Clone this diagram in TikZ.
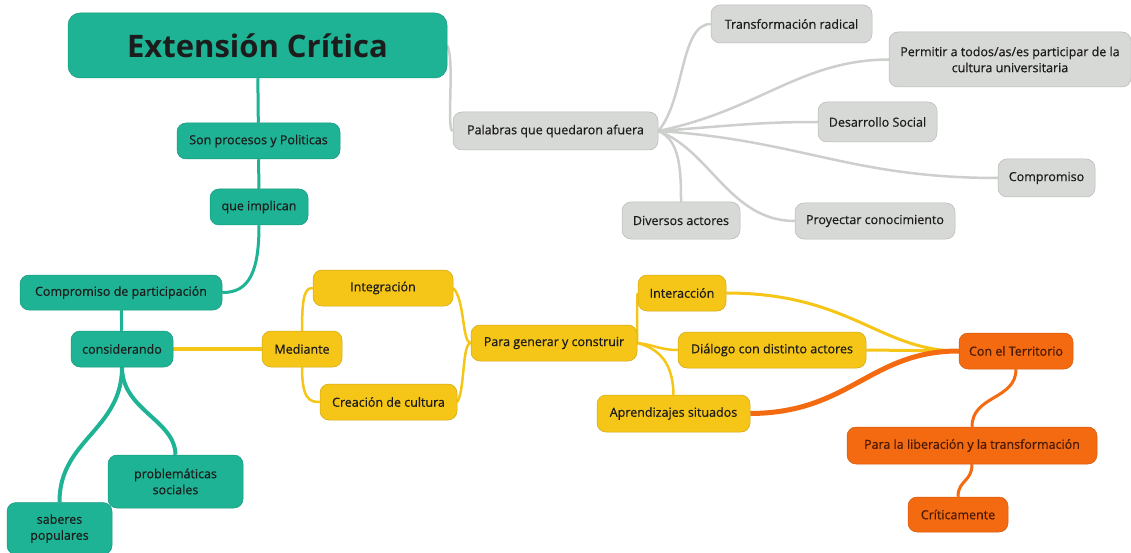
\documentclass[tikz,border=0pt]{standalone}
\usepackage{fontspec}
\setmainfont{Open Sans}
\newfontface\ecfont{Open Sans}[FakeBold=0.5]
\usetikzlibrary{backgrounds}
\definecolor{ecgreen}{HTML}{1DB394}
\definecolor{ecyellow}{HTML}{F5C517}
\definecolor{ecorange}{HTML}{F36A10}
\definecolor{ecgray}{HTML}{D7D9D6}
\definecolor{eclink}{HTML}{CDCFCC}
\definecolor{ectext}{HTML}{1C1C1C}
\definecolor{ecbrown}{HTML}{4A1A05}
\begin{document}
\begin{tikzpicture}[x=1pt,y=-1pt,
  box/.style={rounded corners=9pt,inner sep=2pt,minimum height=36pt,align=center,
    font=\ecfont\fontsize{12.5}{16}\selectfont,text=ectext},
  greenbox/.style={box,fill=ecgreen,draw=ecgreen!85!black,line width=0.5pt},
  yellowbox/.style={box,fill=ecyellow,draw=ecyellow!85!black,line width=0.5pt},
  orangebox/.style={box,fill=ecorange,draw=ecorange!85!black,line width=0.5pt,text=ecbrown},
  graybox/.style={box,fill=ecgray,draw=ecgray!85!black,line width=0.5pt},
  glink/.style={draw=ecgreen,line width=3pt},
  ylink/.style={draw=ecyellow,line width=2.5pt},
  olink/.style={draw=ecorange,line width=3pt},
  klink/.style={draw=eclink,line width=2.5pt}]
\useasboundingbox (0,0) rectangle (1131,553);
% main branch
\node[greenbox,minimum width=379pt,minimum height=65pt,rounded corners=12pt,
  font=\fontsize{31}{36}\selectfont\bfseries] (ext) at (257.5,45.5) {Extensión Crítica};
\node[greenbox,minimum width=163pt] (proc) at (258.5,141) {Son procesos y Politicas};
\node[greenbox,minimum width=98pt] (impl) at (259,207) {que implican};
\node[greenbox,minimum width=202pt,minimum height=35pt] (comp) at (121,292.5) {Compromiso de participación};
\node[greenbox,minimum width=102pt] (cons) at (122,349) {considerando};
\node[greenbox,minimum width=135pt,minimum height=53pt] (prob) at (175.5,481.5) {problemáticas\\sociales};
\node[greenbox,minimum width=105pt,minimum height=52pt] (sab) at (59.5,528.5) {saberes\\populares};
% yellow branch
\node[yellowbox,minimum width=80pt] (med) at (302,349) {Mediante};
\node[yellowbox,minimum width=140pt] (integ) at (383,288) {Integración};
\node[yellowbox,minimum width=137pt] (crea) at (388.5,402) {Creación de cultura};
\node[yellowbox,minimum width=166pt] (gen) at (554,343) {Para generar y construir};
\node[yellowbox,minimum width=88pt] (inter) at (682,293) {Interacción};
\node[yellowbox,minimum width=188pt] (dial) at (772,350) {Diálogo con distinto actores};
\node[yellowbox,minimum width=153pt,minimum height=37pt] (apr) at (673.5,413.5) {Aprendizajes situados};
% orange branch
\node[orangebox,minimum width=114pt] (terr) at (1016,351) {Con el Territorio};
\node[orangebox,minimum width=250pt,minimum height=37pt] (lib) at (972,445.5) {Para la liberación y la transformación};
\node[orangebox,minimum width=100pt,minimum height=35pt] (crit) at (958,514.5) {Críticamente};
% gray branch
\node[graybox,minimum width=205pt,minimum height=38pt] (pal) at (555.5,131) {Palabras que quedaron afuera};
\node[graybox,minimum width=161pt,minimum height=38pt] (trans) at (791.5,24) {Transformación radical};
\node[graybox,minimum width=242pt,minimum height=55pt] (perm) at (1010,59.5) {Permitir a todos/as/es participar de la\\cultura universitaria};
\node[graybox,minimum width=119pt,minimum height=40pt] (des) at (877.5,122) {Desarrollo Social};
\node[graybox,minimum width=97pt,minimum height=38pt] (compr) at (1046.5,178) {Compromiso};
\node[graybox,minimum width=118pt,minimum height=37pt] (div) at (681,220.5) {Diversos actores};
\node[graybox,minimum width=160pt] (proy) at (875,221) {Proyectar conocimiento};
\begin{scope}[on background layer]
\draw[glink] (ext) -- (proc);
\draw[glink] (proc) -- (impl);
\draw[glink] (impl.south) .. controls (259,270) and (250,293) .. (comp.east);
\draw[glink] (comp) -- (cons);
\draw[glink,line width=4pt] (cons.south) .. controls (122,430) and (59,440) .. (sab.north);
\draw[glink,line width=4pt] (cons.south) .. controls (122,410) and (175,420) .. (prob.north);
\draw[ylink,line width=3.5pt] (cons.east) -- (med.west);
\draw[ylink] (med.north) .. controls (302,295) and (305,288) .. (integ.west);
\draw[ylink] (med.south) .. controls (302,400) and (310,402) .. (crea.west);
\draw[ylink] (integ.east) .. controls (465,300) and (462,343) .. (gen.west);
\draw[ylink] (crea.east) .. controls (465,390) and (462,343) .. (gen.west);
\draw[ylink] (gen.east) .. controls (637,320) and (637,293) .. (inter.west);
\draw[ylink] (gen.east) .. controls (655,345) and (660,350) .. (dial.west);
\draw[ylink] (gen.east) .. controls (665,350) and (673,370) .. (apr.north);
\draw[ylink,line width=3pt] (inter.east) .. controls (850,293) and (880,351) .. (terr.west);
\draw[ylink,line width=3pt] (dial.east) -- (terr.west);
\draw[olink,line width=5pt] (apr.east) .. controls (850,413) and (870,351) .. (terr.west);
\draw[olink] (terr.south) .. controls (1016,400) and (972,395) .. (lib.north);
\draw[olink] (lib.south) .. controls (972,482) and (958,480) .. (crit.north);
\draw[klink] (ext.east) .. controls (455,60) and (446,131) .. (pal.west);
\draw[klink] (pal.east) .. controls (685,100) and (680,24) .. (trans.west);
\draw[klink] (pal.east) .. controls (760,110) and (800,60) .. (perm.west);
\draw[klink] (pal.east) .. controls (740,125) and (760,122) .. (des.west);
\draw[klink] (pal.east) .. controls (800,140) and (850,178) .. (compr.west);
\draw[klink] (pal.east) .. controls (710,150) and (730,221) .. (proy.west);
\draw[klink] (pal.east) .. controls (680,140) and (681,170) .. (div.north);
\end{scope}
\end{tikzpicture}
\end{document}
